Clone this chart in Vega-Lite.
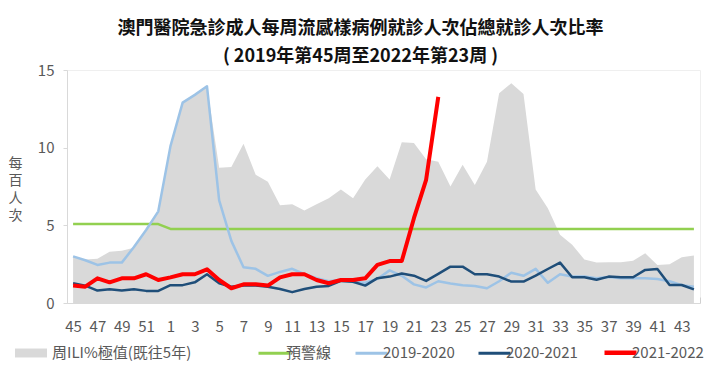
{
"$schema": "https://vega.github.io/schema/vega-lite/v6.json",
"width": 633, "height": 233,
"autosize": {"type": "none"},
"padding": {"left": 67, "top": 70, "right": 19, "bottom": 71},
"background": "white",
"config": {"font": "Noto Sans CJK TC", "view": {"stroke": "#efefef"}},
"title": {"text": ["澳門醫院急診成人每周流感樣病例就診人次佔總就診人次比率", "( 2019年第45周至2022年第23周 )"], "fontSize": 18, "fontWeight": "bold", "color": "#111111", "font": "Noto Sans CJK TC", "lineHeight": 28, "anchor": "middle", "frame": "group", "dx": -23, "dy": 3, "offset": 0},
"data": {"values": [
{"w":"45","s":"周ILI%極值(既往5年)","v":3.0},{"w":"46","s":"周ILI%極值(既往5年)","v":2.8},{"w":"47","s":"周ILI%極值(既往5年)","v":2.85},{"w":"48","s":"周ILI%極值(既往5年)","v":3.3},{"w":"49","s":"周ILI%極值(既往5年)","v":3.37},{"w":"50","s":"周ILI%極值(既往5年)","v":3.55},{"w":"51","s":"周ILI%極值(既往5年)","v":4.7},{"w":"52","s":"周ILI%極值(既往5年)","v":5.9},
{"w":"1","s":"周ILI%極值(既往5年)","v":10.1},{"w":"2","s":"周ILI%極值(既往5年)","v":12.9},{"w":"3","s":"周ILI%極值(既往5年)","v":13.4},{"w":"4","s":"周ILI%極值(既往5年)","v":13.95},{"w":"5","s":"周ILI%極值(既往5年)","v":8.7},{"w":"6","s":"周ILI%極值(既往5年)","v":8.75},{"w":"7","s":"周ILI%極值(既往5年)","v":10.25},{"w":"8","s":"周ILI%極值(既往5年)","v":8.25},{"w":"9","s":"周ILI%極值(既往5年)","v":7.8},{"w":"10","s":"周ILI%極值(既往5年)","v":6.3},
{"w":"11","s":"周ILI%極值(既往5年)","v":6.35},{"w":"12","s":"周ILI%極值(既往5年)","v":5.95},{"w":"13","s":"周ILI%極值(既往5年)","v":6.35},{"w":"14","s":"周ILI%極值(既往5年)","v":6.75},{"w":"15","s":"周ILI%極值(既往5年)","v":7.3},{"w":"16","s":"周ILI%極值(既往5年)","v":6.75},{"w":"17","s":"周ILI%極值(既往5年)","v":7.95},{"w":"18","s":"周ILI%極值(既往5年)","v":8.8},{"w":"19","s":"周ILI%極值(既往5年)","v":7.95},{"w":"20","s":"周ILI%極值(既往5年)","v":10.35},
{"w":"21","s":"周ILI%極值(既往5年)","v":10.3},{"w":"22","s":"周ILI%極值(既往5年)","v":9.25},{"w":"23","s":"周ILI%極值(既往5年)","v":9.1},{"w":"24","s":"周ILI%極值(既往5年)","v":7.5},{"w":"25","s":"周ILI%極值(既往5年)","v":8.9},{"w":"26","s":"周ILI%極值(既往5年)","v":7.6},{"w":"27","s":"周ILI%極值(既往5年)","v":9.1},{"w":"28","s":"周ILI%極值(既往5年)","v":13.5},{"w":"29","s":"周ILI%極值(既往5年)","v":14.15},{"w":"30","s":"周ILI%極值(既往5年)","v":13.45},
{"w":"31","s":"周ILI%極值(既往5年)","v":7.3},{"w":"32","s":"周ILI%極值(既往5年)","v":6.1},{"w":"33","s":"周ILI%極值(既往5年)","v":4.4},{"w":"34","s":"周ILI%極值(既往5年)","v":3.75},{"w":"35","s":"周ILI%極值(既往5年)","v":2.8},{"w":"36","s":"周ILI%極值(既往5年)","v":2.6},{"w":"37","s":"周ILI%極值(既往5年)","v":2.62},{"w":"38","s":"周ILI%極值(既往5年)","v":2.62},{"w":"39","s":"周ILI%極值(既往5年)","v":2.72},{"w":"40","s":"周ILI%極值(既往5年)","v":3.2},
{"w":"41","s":"周ILI%極值(既往5年)","v":2.45},{"w":"42","s":"周ILI%極值(既往5年)","v":2.5},{"w":"43","s":"周ILI%極值(既往5年)","v":2.95},{"w":"44","s":"周ILI%極值(既往5年)","v":3.05},

{"w":"45","s":"預警線","v":5.08},{"w":"46","s":"預警線","v":5.08},{"w":"47","s":"預警線","v":5.08},{"w":"48","s":"預警線","v":5.08},{"w":"49","s":"預警線","v":5.08},{"w":"50","s":"預警線","v":5.08},{"w":"51","s":"預警線","v":5.08},{"w":"52","s":"預警線","v":5.08},
{"w":"1","s":"預警線","v":4.77},{"w":"2","s":"預警線","v":4.77},{"w":"3","s":"預警線","v":4.77},{"w":"4","s":"預警線","v":4.77},{"w":"5","s":"預警線","v":4.77},{"w":"6","s":"預警線","v":4.77},{"w":"7","s":"預警線","v":4.77},{"w":"8","s":"預警線","v":4.77},{"w":"9","s":"預警線","v":4.77},{"w":"10","s":"預警線","v":4.77},
{"w":"11","s":"預警線","v":4.77},{"w":"12","s":"預警線","v":4.77},{"w":"13","s":"預警線","v":4.77},{"w":"14","s":"預警線","v":4.77},{"w":"15","s":"預警線","v":4.77},{"w":"16","s":"預警線","v":4.77},{"w":"17","s":"預警線","v":4.77},{"w":"18","s":"預警線","v":4.77},{"w":"19","s":"預警線","v":4.77},{"w":"20","s":"預警線","v":4.77},
{"w":"21","s":"預警線","v":4.77},{"w":"22","s":"預警線","v":4.77},{"w":"23","s":"預警線","v":4.77},{"w":"24","s":"預警線","v":4.77},{"w":"25","s":"預警線","v":4.77},{"w":"26","s":"預警線","v":4.77},{"w":"27","s":"預警線","v":4.77},{"w":"28","s":"預警線","v":4.77},{"w":"29","s":"預警線","v":4.77},{"w":"30","s":"預警線","v":4.77},
{"w":"31","s":"預警線","v":4.77},{"w":"32","s":"預警線","v":4.77},{"w":"33","s":"預警線","v":4.77},{"w":"34","s":"預警線","v":4.77},{"w":"35","s":"預警線","v":4.77},{"w":"36","s":"預警線","v":4.77},{"w":"37","s":"預警線","v":4.77},{"w":"38","s":"預警線","v":4.77},{"w":"39","s":"預警線","v":4.77},{"w":"40","s":"預警線","v":4.77},
{"w":"41","s":"預警線","v":4.77},{"w":"42","s":"預警線","v":4.77},{"w":"43","s":"預警線","v":4.77},{"w":"44","s":"預警線","v":4.77},

{"w":"45","s":"2019-2020","v":3.0},{"w":"46","s":"2019-2020","v":2.75},{"w":"47","s":"2019-2020","v":2.45},{"w":"48","s":"2019-2020","v":2.6},{"w":"49","s":"2019-2020","v":2.6},{"w":"50","s":"2019-2020","v":3.6},{"w":"51","s":"2019-2020","v":4.7},{"w":"52","s":"2019-2020","v":5.9},
{"w":"1","s":"2019-2020","v":10.1},{"w":"2","s":"2019-2020","v":12.9},{"w":"3","s":"2019-2020","v":13.4},{"w":"4","s":"2019-2020","v":13.95},{"w":"5","s":"2019-2020","v":6.6},{"w":"6","s":"2019-2020","v":4.0},{"w":"7","s":"2019-2020","v":2.3},{"w":"8","s":"2019-2020","v":2.2},{"w":"9","s":"2019-2020","v":1.75},{"w":"10","s":"2019-2020","v":2.0},
{"w":"11","s":"2019-2020","v":2.2},{"w":"12","s":"2019-2020","v":1.85},{"w":"13","s":"2019-2020","v":1.6},{"w":"14","s":"2019-2020","v":1.4},{"w":"15","s":"2019-2020","v":1.5},{"w":"16","s":"2019-2020","v":1.35},{"w":"17","s":"2019-2020","v":1.3},{"w":"18","s":"2019-2020","v":1.55},{"w":"19","s":"2019-2020","v":2.1},{"w":"20","s":"2019-2020","v":1.75},
{"w":"21","s":"2019-2020","v":1.2},{"w":"22","s":"2019-2020","v":1.0},{"w":"23","s":"2019-2020","v":1.4},{"w":"24","s":"2019-2020","v":1.25},{"w":"25","s":"2019-2020","v":1.15},{"w":"26","s":"2019-2020","v":1.1},{"w":"27","s":"2019-2020","v":0.95},{"w":"28","s":"2019-2020","v":1.4},{"w":"29","s":"2019-2020","v":1.95},{"w":"30","s":"2019-2020","v":1.75},
{"w":"31","s":"2019-2020","v":2.2},{"w":"32","s":"2019-2020","v":1.3},{"w":"33","s":"2019-2020","v":1.85},{"w":"34","s":"2019-2020","v":1.7},{"w":"35","s":"2019-2020","v":1.7},{"w":"36","s":"2019-2020","v":1.6},{"w":"37","s":"2019-2020","v":1.68},{"w":"38","s":"2019-2020","v":1.6},{"w":"39","s":"2019-2020","v":1.6},{"w":"40","s":"2019-2020","v":1.6},
{"w":"41","s":"2019-2020","v":1.55},{"w":"42","s":"2019-2020","v":1.4},{"w":"43","s":"2019-2020","v":1.15},{"w":"44","s":"2019-2020","v":1.05},

{"w":"45","s":"2020-2021","v":1.27},{"w":"46","s":"2020-2021","v":1.12},{"w":"47","s":"2020-2021","v":0.8},{"w":"48","s":"2020-2021","v":0.88},{"w":"49","s":"2020-2021","v":0.8},{"w":"50","s":"2020-2021","v":0.88},{"w":"51","s":"2020-2021","v":0.78},{"w":"52","s":"2020-2021","v":0.78},
{"w":"1","s":"2020-2021","v":1.15},{"w":"2","s":"2020-2021","v":1.15},{"w":"3","s":"2020-2021","v":1.33},{"w":"4","s":"2020-2021","v":1.85},{"w":"5","s":"2020-2021","v":1.27},{"w":"6","s":"2020-2021","v":1.05},{"w":"7","s":"2020-2021","v":1.12},{"w":"8","s":"2020-2021","v":1.12},{"w":"9","s":"2020-2021","v":1.05},{"w":"10","s":"2020-2021","v":0.9},
{"w":"11","s":"2020-2021","v":0.7},{"w":"12","s":"2020-2021","v":0.9},{"w":"13","s":"2020-2021","v":1.05},{"w":"14","s":"2020-2021","v":1.1},{"w":"15","s":"2020-2021","v":1.42},{"w":"16","s":"2020-2021","v":1.37},{"w":"17","s":"2020-2021","v":1.12},{"w":"18","s":"2020-2021","v":1.6},{"w":"19","s":"2020-2021","v":1.7},{"w":"20","s":"2020-2021","v":1.9},
{"w":"21","s":"2020-2021","v":1.76},{"w":"22","s":"2020-2021","v":1.42},{"w":"23","s":"2020-2021","v":1.87},{"w":"24","s":"2020-2021","v":2.34},{"w":"25","s":"2020-2021","v":2.34},{"w":"26","s":"2020-2021","v":1.85},{"w":"27","s":"2020-2021","v":1.85},{"w":"28","s":"2020-2021","v":1.7},{"w":"29","s":"2020-2021","v":1.38},{"w":"30","s":"2020-2021","v":1.38},
{"w":"31","s":"2020-2021","v":1.76},{"w":"32","s":"2020-2021","v":2.19},{"w":"33","s":"2020-2021","v":2.6},{"w":"34","s":"2020-2021","v":1.66},{"w":"35","s":"2020-2021","v":1.66},{"w":"36","s":"2020-2021","v":1.5},{"w":"37","s":"2020-2021","v":1.7},{"w":"38","s":"2020-2021","v":1.66},{"w":"39","s":"2020-2021","v":1.66},{"w":"40","s":"2020-2021","v":2.13},
{"w":"41","s":"2020-2021","v":2.19},{"w":"42","s":"2020-2021","v":1.16},{"w":"43","s":"2020-2021","v":1.16},{"w":"44","s":"2020-2021","v":0.88},

{"w":"45","s":"2021-2022","v":1.12},{"w":"46","s":"2021-2022","v":1.05},{"w":"47","s":"2021-2022","v":1.59},{"w":"48","s":"2021-2022","v":1.33},{"w":"49","s":"2021-2022","v":1.59},{"w":"50","s":"2021-2022","v":1.59},{"w":"51","s":"2021-2022","v":1.85},{"w":"52","s":"2021-2022","v":1.48},
{"w":"1","s":"2021-2022","v":1.65},{"w":"2","s":"2021-2022","v":1.85},{"w":"3","s":"2021-2022","v":1.85},{"w":"4","s":"2021-2022","v":2.17},{"w":"5","s":"2021-2022","v":1.48},{"w":"6","s":"2021-2022","v":0.95},{"w":"7","s":"2021-2022","v":1.2},{"w":"8","s":"2021-2022","v":1.2},{"w":"9","s":"2021-2022","v":1.12},{"w":"10","s":"2021-2022","v":1.65},
{"w":"11","s":"2021-2022","v":1.85},{"w":"12","s":"2021-2022","v":1.85},{"w":"13","s":"2021-2022","v":1.48},{"w":"14","s":"2021-2022","v":1.27},{"w":"15","s":"2021-2022","v":1.48},{"w":"16","s":"2021-2022","v":1.48},{"w":"17","s":"2021-2022","v":1.59},{"w":"18","s":"2021-2022","v":2.45},{"w":"19","s":"2021-2022","v":2.7},{"w":"20","s":"2021-2022","v":2.7},
{"w":"21","s":"2021-2022","v":5.46},{"w":"22","s":"2021-2022","v":7.93},{"w":"23","s":"2021-2022","v":13.27}
]},
"encoding": {
  "x": {"field": "w", "type": "ordinal", "bandPosition": 0.5,
    "scale": {"type": "band", "paddingInner": 0, "paddingOuter": 0, "domain": ["45","46","47","48","49","50","51","52","1","2","3","4","5","6","7","8","9","10","11","12","13","14","15","16","17","18","19","20","21","22","23","24","25","26","27","28","29","30","31","32","33","34","35","36","37","38","39","40","41","42","43","44"]},
    "axis": {"title": null, "labelAngle": 0, "labelOverlap": false, "labelExpr": "toNumber(datum.value) % 2 === 1 ? datum.label : ''", "labelFontSize": 15, "labelColor": "#595959", "labelPadding": 22, "tickBand": "extent", "tickSize": -6, "tickColor": "#d0d0d0", "domainColor": "#d9d9d9", "grid": false}},
  "y": {"field": "v", "type": "quantitative",
    "scale": {"domain": [0, 15], "nice": false},
    "axis": {"values": [0, 5, 10, 15], "grid": false, "labelFontSize": 15, "labelColor": "#595959", "labelPadding": 9, "tickSize": 4, "tickColor": "#d9d9d9", "domainColor": "#d9d9d9",
      "title": ["每", "百", "人", "次"], "titleAngle": 0, "titleFontSize": 14, "titleFontWeight": "normal", "titleColor": "#595959", "titleLineHeight": 17.5, "titleX": -52, "titleY": 93, "titleAlign": "center", "titleBaseline": "middle"}}
},
"layer": [
  {"transform": [{"filter": "datum.s === '周ILI%極值(既往5年)'"}],
   "mark": {"type": "area", "opacity": 1},
   "encoding": {"fill": {"field": "s", "type": "nominal", "scale": {"range": ["#d9d9d9"]},
     "legend": {"title": null, "orient": "none", "legendX": -52, "legendY": 267, "padding": 0, "direction": "horizontal", "symbolType": "M-1,-0.28H1V0.28H-1Z", "symbolSize": 1024, "symbolStrokeWidth": 0, "labelFontSize": 15, "labelColor": "#595959", "labelOffset": 5}}}},
  {"transform": [{"filter": "datum.s !== '周ILI%極值(既往5年)'"}],
   "mark": {"type": "line", "strokeJoin": "round"},
   "encoding": {
     "stroke": {"field": "s", "type": "nominal", "scale": {"domain": ["預警線", "2019-2020", "2020-2021", "2021-2022"], "range": ["#92d050", "#9dc3e6", "#1f4e79", "#ff0000"]},
       "legend": {"title": null, "orient": "none", "legendX": 200, "legendY": 275, "padding": 0, "direction": "horizontal", "symbolType": "stroke", "symbolSize": 1024, "symbolStrokeWidth": 3, "labelFontSize": 15, "labelColor": "#595959", "labelOffset": 4, "columnPadding": 17,
         "encode": {"symbols": {"update": {"strokeWidth": {"signal": "datum.value === '2021-2022' ? 4.5 : 3"}}}}}},
     "strokeWidth": {"condition": {"test": "datum.s === '2021-2022'", "value": 4}, "value": 2.5},
     "order": {"value": 0}}}
]
}
